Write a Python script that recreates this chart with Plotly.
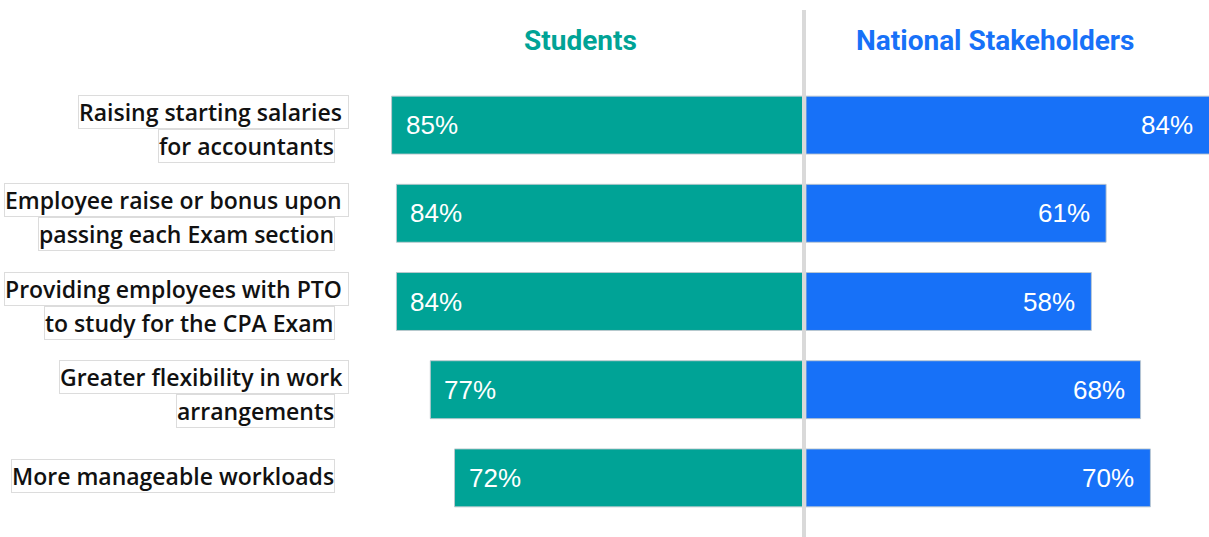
import plotly.graph_objects as go

# Survey data: share of respondents rating each incentive as effective
categories = [
    "Raising starting salaries for accountants",
    "Employee raise or bonus upon passing each Exam section",
    "Providing employees with PTO to study for the CPA Exam",
    "Greater flexibility in work arrangements",
    "More manageable workloads",
]
label_lines = [
    ["Raising starting salaries", "for accountants"],
    ["Employee raise or bonus upon", "passing each Exam section"],
    ["Providing employees with PTO", "to study for the CPA Exam"],
    ["Greater flexibility in work", "arrangements"],
    ["More manageable workloads"],
]
students = [85, 84, 84, 77, 72]
stakeholders = [84, 61, 58, 68, 70]
group_names = ["Students", "National Stakeholders"]

# Canvas and layout constants (pixels)
W, H = 1209, 537
TEAL = "#00A396"
BLUE = "#1771F8"
CENTER_PX = 804
LEFT_END_PX = 803
RIGHT_START_PX = 806
LEFT_SCALE = 4.84     # px per percentage point
RIGHT_SCALE = 4.92
LEFT_MAX = 90
RIGHT_MAX = (W - RIGHT_START_PX) / RIGHT_SCALE
PLOT_TOP_PX, PLOT_BOTTOM_PX = 81, 522

LABEL_FONT = dict(family="Open Sans", size=23, color="#111111", weight=600)
VALUE_FONT = dict(family="Liberation Sans, Arial", size=26, color="white")
TITLE_FONT = dict(family="Roboto", size=28, weight=700)

fig = go.Figure()
edge = dict(color="rgba(190,200,205,0.9)", width=1)
fig.add_trace(go.Bar(
    y=categories, x=students, orientation="h", xaxis="x", yaxis="y",
    marker=dict(color=TEAL, line=edge), name=group_names[0], hoverinfo="x+y",
))
fig.add_trace(go.Bar(
    y=categories, x=stakeholders, orientation="h", xaxis="x2", yaxis="y",
    marker=dict(color=BLUE, line=edge), name=group_names[1], hoverinfo="x+y",
))

annotations = []
# Percent labels inside the bars, near the outer end
for cat, v in zip(categories, students):
    annotations.append(dict(
        x=v, y=cat, xref="x", yref="y", text=f"{v}%", showarrow=False,
        xanchor="left", yanchor="middle", xshift=12, font=VALUE_FONT,
    ))
for cat, v in zip(categories, stakeholders):
    annotations.append(dict(
        x=min(v, RIGHT_MAX), y=cat, xref="x2", yref="y", text=f"{v}%",
        showarrow=False, xanchor="right", yanchor="middle", xshift=-14,
        font=VALUE_FONT,
    ))

# Category labels, one boxed text line each
box = dict(bordercolor="#DCDCDC", borderwidth=1, borderpad=0, bgcolor="white")
for cat, lines in zip(categories, label_lines):
    if len(lines) == 2:
        annotations.append(dict(
            x=349 / W, xref="paper", y=cat, yref="y", text=lines[0] + "\u00a0",
            showarrow=False, xanchor="right", yanchor="bottom", yshift=-4,
            font=LABEL_FONT, **box,
        ))
        annotations.append(dict(
            x=335 / W, xref="paper", y=cat, yref="y", text=lines[1],
            showarrow=False, xanchor="right", yanchor="top", yshift=-4,
            font=LABEL_FONT, **box,
        ))
    else:
        annotations.append(dict(
            x=335 / W, xref="paper", y=cat, yref="y", text=lines[0],
            showarrow=False, xanchor="right", yanchor="middle", yshift=2,
            font=LABEL_FONT, **box,
        ))

# Group headers
for name, cx, color in zip(group_names, [580, 995], [TEAL, BLUE]):
    annotations.append(dict(
        x=cx / W, y=1 - 40 / H, xref="paper", yref="paper", text=name,
        showarrow=False, xanchor="center", yanchor="middle",
        font=dict(color=color, **TITLE_FONT),
    ))

fig.update_layout(
    width=W, height=H,
    margin=dict(l=0, r=0, t=0, b=0),
    paper_bgcolor="white", plot_bgcolor="white",
    showlegend=False,
    bargap=0.343,
    xaxis=dict(
        domain=[(LEFT_END_PX - LEFT_MAX * LEFT_SCALE) / W, LEFT_END_PX / W],
        range=[LEFT_MAX, 0], visible=False, fixedrange=True,
    ),
    xaxis2=dict(
        domain=[RIGHT_START_PX / W, 1], range=[0, RIGHT_MAX],
        visible=False, anchor="y", fixedrange=True,
    ),
    yaxis=dict(
        domain=[1 - PLOT_BOTTOM_PX / H, 1 - PLOT_TOP_PX / H],
        categoryorder="array", categoryarray=categories,
        autorange="reversed", visible=False, fixedrange=True,
    ),
    annotations=annotations,
    shapes=[dict(
        type="line", xref="paper", yref="paper",
        x0=CENTER_PX / W, x1=CENTER_PX / W, y0=0, y1=1 - 10 / H,
        line=dict(color="#D9D9D9", width=4), layer="above",
    )],
)

fig.write_html("out.html")
